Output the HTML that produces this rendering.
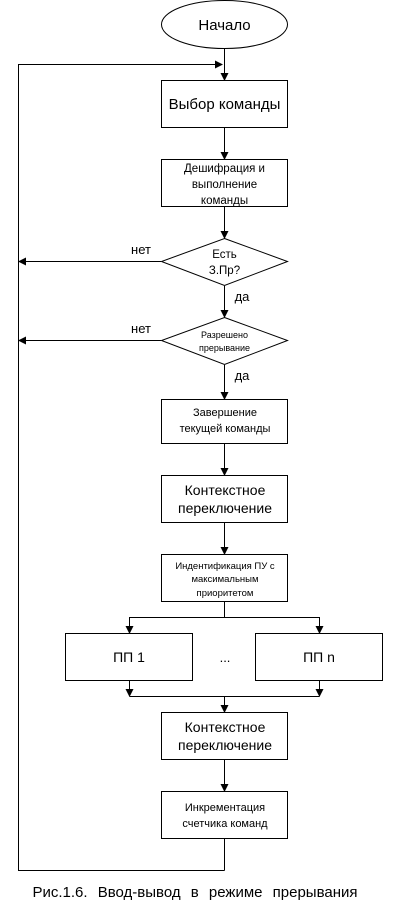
<!DOCTYPE html>
<html><head><meta charset="utf-8"><style>
body{margin:0;background:#fff;}
svg{display:block;font-family:"Liberation Sans",sans-serif;}
</style></head><body>
<svg width="400" height="900" viewBox="0 0 400 900">
<defs><marker id="a" markerWidth="8" markerHeight="8" refX="7" refY="4" orient="auto" markerUnits="userSpaceOnUse"><path d="M0,0 L8,4 L0,8 z" fill="#000"/></marker></defs>
<g stroke="#000" stroke-width="1" fill="none">
<ellipse cx="224.5" cy="24.5" rx="63" ry="24" fill="#fff"/>
<line x1="224.5" y1="49" x2="224.5" y2="80" marker-end="url(#a)"/>
<polyline points="224.5,870.5 18.5,870.5 18.5,64.5 222,64.5" marker-end="url(#a)"/>
<rect x="161.5" y="80.5" width="126" height="47"/>
<line x1="224.5" y1="128" x2="224.5" y2="159" marker-end="url(#a)"/>
<rect x="161.5" y="159.5" width="126" height="47"/>
<line x1="224.5" y1="207" x2="224.5" y2="238" marker-end="url(#a)"/>
<polygon points="224.5,238.5 287.5,261.5 224.5,285.5 161.5,261.5"/>
<line x1="161" y1="261.5" x2="19" y2="261.5" marker-end="url(#a)"/>
<line x1="224.5" y1="286" x2="224.5" y2="317" marker-end="url(#a)"/>
<polygon points="224.5,317.5 287.5,340.5 224.5,364.5 161.5,340.5"/>
<line x1="161" y1="340.5" x2="19" y2="340.5" marker-end="url(#a)"/>
<line x1="224.5" y1="365" x2="224.5" y2="399" marker-end="url(#a)"/>
<rect x="161.5" y="399.5" width="126" height="44"/>
<line x1="224.5" y1="444" x2="224.5" y2="475" marker-end="url(#a)"/>
<rect x="161.5" y="475.5" width="126" height="47"/>
<line x1="224.5" y1="523" x2="224.5" y2="554" marker-end="url(#a)"/>
<rect x="161.5" y="554.5" width="126" height="47"/>
<line x1="224.5" y1="602" x2="224.5" y2="617.5"/>
<polyline points="129.5,633 129.5,617.5 319.5,617.5 319.5,633"/>
<line x1="129.5" y1="620" x2="129.5" y2="633" marker-end="url(#a)"/>
<line x1="319.5" y1="620" x2="319.5" y2="633" marker-end="url(#a)"/>
<rect x="65.5" y="633.5" width="127" height="47"/>
<rect x="255.5" y="633.5" width="127" height="47"/>
<line x1="129.5" y1="681" x2="129.5" y2="696" marker-end="url(#a)"/>
<line x1="319.5" y1="681" x2="319.5" y2="696" marker-end="url(#a)"/>
<line x1="129.5" y1="696.5" x2="319.5" y2="696.5"/>
<line x1="224.5" y1="696" x2="224.5" y2="712" marker-end="url(#a)"/>
<rect x="161.5" y="712.5" width="126" height="47"/>
<line x1="224.5" y1="760" x2="224.5" y2="791" marker-end="url(#a)"/>
<rect x="161.5" y="791.5" width="126" height="47"/>
<line x1="224.5" y1="839" x2="224.5" y2="870.5"/>
</g>
<g fill="#000" text-anchor="middle">
<text x="224.5" y="30" font-size="15">Начало</text>
<text x="224.5" y="109" font-size="15">Выбор команды</text>
<text x="224.5" y="172" font-size="11.5">Дешифрация и</text>
<text x="224.5" y="188" font-size="11.5">выполнение</text>
<text x="224.5" y="204" font-size="11.5">команды</text>
<text x="224.5" y="258" font-size="11.5">Есть</text>
<text x="224.5" y="274" font-size="11.5">З.Пр?</text>
<text x="141" y="254" font-size="13">нет</text>
<text x="242" y="301" font-size="13">да</text>
<text x="224.5" y="338" font-size="9">Разрешено</text>
<text x="224.5" y="351" font-size="9">прерывание</text>
<text x="141" y="333" font-size="13">нет</text>
<text x="242" y="380" font-size="13">да</text>
<text x="225" y="416" font-size="11">Завершение</text>
<text x="225" y="432" font-size="11">текущей команды</text>
<text x="225" y="495" font-size="14">Контекстное</text>
<text x="225" y="513" font-size="14">переключение</text>
<text x="225" y="569" font-size="9.5">Индентификация ПУ с</text>
<text x="225" y="582" font-size="9.5">максимальным</text>
<text x="225" y="596" font-size="9.5">приоритетом</text>
<text x="129" y="662" font-size="14">ПП 1</text>
<text x="225" y="662" font-size="13">...</text>
<text x="319" y="662" font-size="14">ПП n</text>
<text x="225" y="732" font-size="14">Контекстное</text>
<text x="225" y="750" font-size="14">переключение</text>
<text x="225" y="811" font-size="11">Инкрементация</text>
<text x="225" y="827" font-size="11">счетчика команд</text>
<text x="195" y="897" font-size="15" word-spacing="6">Рис.1.6.  Ввод-вывод в режиме прерывания</text>
</g>
</svg>
</body></html>
